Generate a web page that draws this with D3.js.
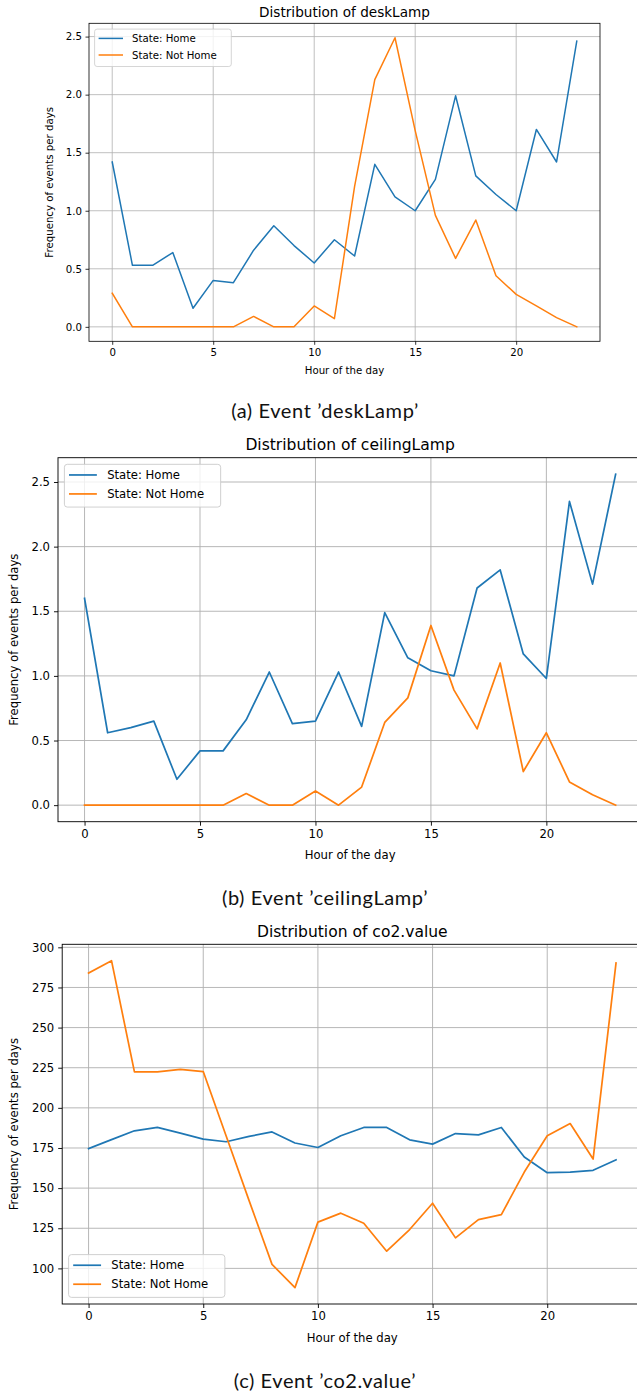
<!DOCTYPE html>
<html>
<head>
<meta charset="utf-8">
<script src="https://cdn.jsdelivr.net/npm/d3@7"></script>
<style>
  html, body { margin: 0; padding: 0; background: #fff; }
  svg { display: block; }
</style>
</head>
<body>
<div id="chart"></div>
<script>
// hours 0..23 on the x axis
const hours = d3.range(24);
const xTicks = [0, 5, 10, 15, 20];

// (a) deskLamp
const deskHome = [1.42, 0.53, 0.53, 0.64, 0.16, 0.40, 0.38, 0.66, 0.87, 0.70, 0.55, 0.75, 0.61, 1.40, 1.12, 1.00, 1.27, 1.99, 1.30, 1.14, 1.00, 1.70, 1.42, 2.46];
const deskNotHome = [0.29, 0, 0, 0, 0, 0, 0, 0.09, 0, 0, 0.18, 0.07, 1.21, 2.13, 2.49, 1.69, 0.96, 0.59, 0.92, 0.44, 0.28, 0.18, 0.08, 0];

// (b) ceilingLamp
const ceilHome = [1.60, 0.56, 0.60, 0.65, 0.20, 0.42, 0.42, 0.66, 1.03, 0.63, 0.65, 1.03, 0.61, 1.49, 1.14, 1.04, 1.00, 1.68, 1.82, 1.17, 0.98, 2.35, 1.71, 2.56];
const ceilNotHome = [0, 0, 0, 0, 0, 0, 0, 0.09, 0, 0, 0.11, 0, 0.14, 0.64, 0.83, 1.39, 0.89, 0.59, 1.10, 0.26, 0.56, 0.18, 0.08, 0];

// (c) co2.value
const co2Home = [174.6, 180.2, 185.7, 187.8, 184.3, 180.5, 178.9, 182.2, 185.0, 178.1, 175.3, 182.6, 187.8, 187.8, 180.1, 177.4, 184.0, 183.2, 187.8, 169.4, 159.6, 159.9, 161.1, 167.6];
const co2NotHome = [284.0, 291.7, 222.4, 222.4, 224.0, 222.6, 182.5, 142.2, 102.5, 88.0, 128.8, 134.4, 128.1, 110.7, 124.2, 140.6, 119.0, 130.4, 133.5, 160.0, 182.6, 190.2, 168.1, 290.2];

const lampTicks = [0, 0.5, 1.0, 1.5, 2.0, 2.5];
const co2Ticks = [100, 125, 150, 175, 200, 225, 250, 275, 300];

const seriesNames = ["State: Home", "State: Not Home"];
const colors = ["#1f77b4", "#ff7f0e"];

const W = 637, H = 1395;
const font = "'DejaVu Sans', sans-serif";

const svg = d3.select("#chart").append("svg")
    .attr("width", W)
    .attr("height", H)
    .attr("viewBox", [0, 0, W, H]);

svg.append("rect").attr("width", W).attr("height", H).attr("fill", "#fff");

function drawPanel(p) {
    const k = p.k;
    const g = svg.append("g");

    // matplotlib-like 5% margins
    const yExt = d3.extent(p.home.concat(p.notHome));
    const yPad = (yExt[1] - yExt[0]) * 0.05;
    const x = d3.scaleLinear().domain([-1.15, 24.15]).range([p.left, p.right]);
    const y = d3.scaleLinear().domain([yExt[0] - yPad, yExt[1] + yPad]).range([p.bottom, p.top]);

    // grid
    g.append("g")
        .selectAll("line")
        .data(xTicks)
        .join("line")
        .attr("x1", d => x(d)).attr("x2", d => x(d))
        .attr("y1", p.top).attr("y2", p.bottom)
        .attr("stroke", "#b0b0b0")
        .attr("stroke-width", 0.8 * k);

    g.append("g")
        .selectAll("line")
        .data(p.yTicks)
        .join("line")
        .attr("x1", p.left).attr("x2", p.right)
        .attr("y1", d => y(d)).attr("y2", d => y(d))
        .attr("stroke", "#b0b0b0")
        .attr("stroke-width", 0.8 * k);

    // axes
    const xAxis = g.append("g")
        .attr("transform", `translate(0,${p.bottom})`)
        .call(d3.axisBottom(x).tickValues(xTicks).tickSize(3.5 * k).tickPadding(3.5 * k).tickSizeOuter(0));
    const yAxis = g.append("g")
        .attr("transform", `translate(${p.left},0)`)
        .call(d3.axisLeft(y).tickValues(p.yTicks).tickFormat(p.yFormat).tickSize(3.5 * k).tickPadding(3.5 * k).tickSizeOuter(0));

    [xAxis, yAxis].forEach(a => {
        a.select(".domain").remove();
        a.selectAll(".tick line").attr("stroke", "#000").attr("stroke-width", 0.8 * k);
        a.selectAll(".tick text")
            .attr("fill", "#000")
            .style("font-family", font)
            .style("font-size", (10.2 * k) + "px");
    });

    // lines
    const line = d3.line()
        .x((d, i) => x(hours[i]))
        .y(d => y(d));

    g.append("g")
        .selectAll("path")
        .data([p.home, p.notHome])
        .join("path")
        .attr("fill", "none")
        .attr("stroke", (d, i) => colors[i])
        .attr("stroke-width", 1.5 * k)
        .attr("stroke-linejoin", "round")
        .attr("stroke-linecap", "square")
        .attr("d", line);

    // spines
    g.append("rect")
        .attr("x", p.left).attr("y", p.top)
        .attr("width", p.right - p.left)
        .attr("height", p.bottom - p.top)
        .attr("fill", "none")
        .attr("stroke", "#000")
        .attr("stroke-width", 0.8 * k);

    // title
    g.append("text")
        .attr("x", (p.left + p.right) / 2)
        .attr("y", p.top - 6.5 * k)
        .attr("text-anchor", "middle")
        .style("font-family", font)
        .style("font-size", (13.6 * k) + "px")
        .text(p.title);

    // axis labels
    g.append("text")
        .attr("x", (p.left + p.right) / 2)
        .attr("y", p.bottom + 33 * k)
        .attr("text-anchor", "middle")
        .style("font-family", font)
        .style("font-size", (10.2 * k) + "px")
        .text("Hour of the day");

    g.append("text")
        .attr("transform", `translate(${p.yLabelX},${(p.top + p.bottom) / 2}) rotate(-90)`)
        .attr("text-anchor", "middle")
        .style("font-family", font)
        .style("font-size", (10.2 * k) + "px")
        .text("Frequency of events per days");

    // legend
    const lw = 136.7 * k, lh = 37.4 * k;
    const lx = p.left + 5.6 * k;
    const ly = p.legend === "lower" ? p.bottom - 5.8 * k - lh : p.top + 5.8 * k;
    const leg = g.append("g").attr("transform", `translate(${lx},${ly})`);
    leg.append("rect")
        .attr("width", lw).attr("height", lh)
        .attr("rx", 2.5 * k)
        .attr("fill", "#fff").attr("fill-opacity", 0.8)
        .attr("stroke", "#cccccc").attr("stroke-width", 0.8 * k);
    const item = leg.selectAll(".item")
        .data(seriesNames)
        .join("g")
        .attr("transform", (d, i) => `translate(0,${(9.3 + i * 16.6) * k})`);
    item.append("line")
        .attr("x1", 4 * k).attr("x2", 28.4 * k)
        .attr("stroke", (d, i) => colors[i])
        .attr("stroke-width", 1.5 * k);
    item.append("text")
        .attr("x", 37.4 * k)
        .attr("dy", "0.36em")
        .style("font-family", font)
        .style("font-size", (10.2 * k) + "px")
        .text(d => d);

    // caption below the figure
    svg.append("text")
        .attr("x", 325)
        .attr("y", p.captionY)
        .attr("text-anchor", "middle")
        .style("font-family", "Lato, sans-serif")
        .style("font-size", "20px")
        .style("letter-spacing", "0.6px")
        .attr("fill", "#111")
        .text(p.caption);
}

const fmt1 = d3.format(".1f");

drawPanel({
    title: "Distribution of deskLamp",
    caption: "(a) Event \u2019deskLamp\u2019",
    home: deskHome, notHome: deskNotHome,
    yTicks: lampTicks, yFormat: fmt1,
    left: 89, right: 600, top: 23.3, bottom: 341.3,
    k: 1, legend: "upper", yLabelX: 53, captionY: 417.5
});

drawPanel({
    title: "Distribution of ceilingLamp",
    caption: "(b) Event \u2019ceilingLamp\u2019",
    home: ceilHome, notHome: ceilNotHome,
    yTicks: lampTicks, yFormat: fmt1,
    left: 58, right: 642.2, top: 457.7, bottom: 821.7,
    k: 1.143, legend: "upper", yLabelX: 18, captionY: 904.5
});

drawPanel({
    title: "Distribution of co2.value",
    caption: "(c) Event \u2019co2.value\u2019",
    home: co2Home, notHome: co2NotHome,
    yTicks: co2Ticks, yFormat: d3.format("d"),
    left: 62.2, right: 642.4, top: 944.3, bottom: 1304,
    k: 1.143, legend: "lower", yLabelX: 18, captionY: 1388
});
</script>
</body>
</html>
